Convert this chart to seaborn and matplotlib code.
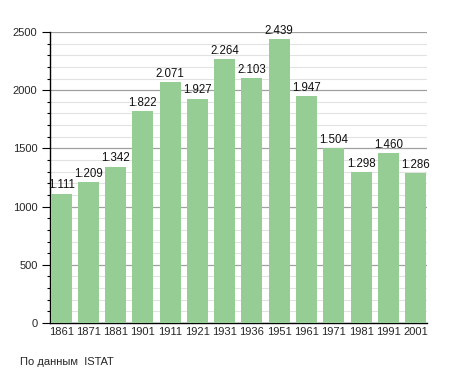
import matplotlib
matplotlib.use('Agg')
import matplotlib.pyplot as plt
from matplotlib.ticker import MultipleLocator
import seaborn as sns
import pandas as pd

# Dati
years = ['1861', '1871', '1881', '1901', '1911', '1921', '1931',
         '1936', '1951', '1961', '1971', '1981', '1991', '2001']
population = [1111, 1209, 1342, 1822, 2071, 1927, 2264,
              2103, 2439, 1947, 1504, 1298, 1460, 1286]
source_note = 'По данным  ISTAT'

sns.set_style('white')
plt.rcParams['font.family'] = ['Liberation Sans', 'DejaVu Sans']

df = pd.DataFrame({'year': years, 'pop': population})

fig = plt.figure(figsize=(4.55, 3.73), dpi=100)
ax = fig.add_axes([50 / 455, 50 / 373, 377 / 455, 291 / 373])

sns.barplot(data=df, x='year', y='pop', color='#95cd95', saturation=1,
            width=0.77, linewidth=0, ax=ax, zorder=3)

# Etichette dei valori
for i, v in enumerate(population):
    ax.text(i, v + 20, f'{v:,}'.replace(',', '.'), ha='center', va='bottom',
            fontsize=8.3, color='#111111', zorder=4)

ax.set_xlim(-0.41, 13.42)
ax.set_ylim(0, 2500)
ax.yaxis.set_major_locator(MultipleLocator(500))
ax.yaxis.set_minor_locator(MultipleLocator(100))
ax.grid(True, which='major', axis='y', color='#a0a0a0', linewidth=0.9, zorder=0)
ax.grid(True, which='minor', axis='y', color='#e2e2e2', linewidth=0.8, zorder=0)
ax.set_axisbelow(True)

for s in ['top', 'right']:
    ax.spines[s].set_visible(False)
for s in ['left', 'bottom']:
    ax.spines[s].set_color('black')
    ax.spines[s].set_linewidth(1.0)

ax.tick_params(axis='y', which='major', length=6, width=0.8, color='black',
               labelsize=8, pad=3, left=True)
ax.tick_params(axis='y', which='minor', length=2.5, width=0.8, color='black', left=True)
ax.tick_params(axis='x', length=0, labelsize=8, pad=3)

ax.set_xlabel('')
ax.set_ylabel('')

fig.text(20 / 455, 1 - 362 / 373, source_note, fontsize=8, va='center', ha='left')

fig.savefig('out.png', dpi=100)
